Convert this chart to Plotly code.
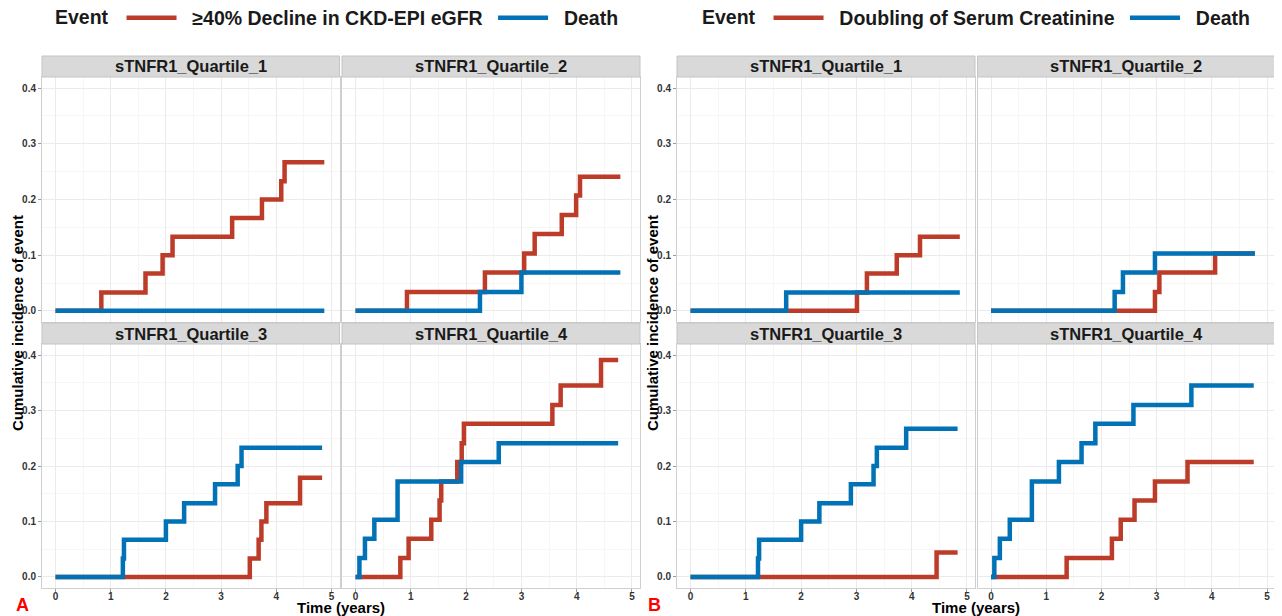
import plotly.graph_objects as go

# the page puts the figure 8 px in from the top-left corner
OFF = 8
W, H = 1282 - OFF, 616 - OFF

quartiles = ["sTNFR1_Quartile_1", "sTNFR1_Quartile_2",
             "sTNFR1_Quartile_3", "sTNFR1_Quartile_4"]

# Panel A: >=40% decline in CKD-EPI eGFR vs death
a_red_name = "≥40% Decline in CKD-EPI eGFR"
a_red_t = [
    [0, 0.83, 1.63, 1.94, 2.12, 3.20, 3.74, 4.09, 4.15, 4.87],
    [0, 0.93, 2.34, 3.05, 3.24, 3.73, 3.99, 4.06, 4.79],
    [0, 3.52, 3.68, 3.73, 3.82, 4.43, 4.83],
    [0, 0.81, 0.96, 1.37, 1.52, 1.55, 1.84, 1.92, 1.96, 3.56, 3.71, 4.44, 4.75],
]
a_red_y = [
    [0, 0.033, 0.067, 0.100, 0.133, 0.167, 0.200, 0.233, 0.267, 0.267],
    [0, 0.034, 0.069, 0.103, 0.138, 0.172, 0.207, 0.241, 0.241],
    [0, 0.033, 0.067, 0.100, 0.133, 0.179, 0.179],
    [0, 0.034, 0.069, 0.103, 0.138, 0.172, 0.207, 0.241, 0.276, 0.310, 0.345, 0.391, 0.391],
]
a_blue_t = [
    [0, 4.87],
    [0, 2.25, 3.00, 4.79],
    [0, 1.22, 1.24, 2.00, 2.33, 2.89, 3.30, 3.37, 4.83],
    [0, 0.07, 0.17, 0.34, 0.76, 1.91, 2.59, 4.75],
]
a_blue_y = [
    [0, 0],
    [0, 0.034, 0.069, 0.069],
    [0, 0.033, 0.067, 0.100, 0.133, 0.167, 0.200, 0.233, 0.233],
    [0, 0.034, 0.069, 0.103, 0.172, 0.207, 0.241, 0.241],
]

# Panel B: doubling of serum creatinine vs death
b_red_name = "Doubling of Serum Creatinine"
b_red_t = [
    [0, 3.01, 3.19, 3.73, 4.15, 4.87],
    [0, 2.97, 3.05, 4.06, 4.78],
    [0, 4.45, 4.83],
    [0, 1.37, 2.19, 2.35, 2.60, 2.97, 3.56, 4.76],
]
b_red_y = [
    [0, 0.033, 0.067, 0.100, 0.133, 0.133],
    [0, 0.034, 0.069, 0.103, 0.103],
    [0, 0.044, 0.044],
    [0, 0.034, 0.069, 0.103, 0.138, 0.172, 0.207, 0.207],
]
b_blue_t = [
    [0, 1.73, 4.87],
    [0, 2.24, 2.39, 2.97, 4.78],
    [0, 1.22, 1.24, 2.00, 2.33, 2.90, 3.31, 3.37, 3.90, 4.83],
    [0, 0.06, 0.16, 0.34, 0.74, 1.23, 1.64, 1.89, 2.58, 3.63, 4.76],
]
b_blue_y = [
    [0, 0.033, 0.033],
    [0, 0.034, 0.069, 0.103, 0.103],
    [0, 0.033, 0.067, 0.100, 0.133, 0.167, 0.200, 0.233, 0.267, 0.267],
    [0, 0.034, 0.069, 0.103, 0.172, 0.207, 0.241, 0.276, 0.310, 0.345, 0.345],
]

RED = "#BC3C29"
BLUE = "#0072B5"
FONT = "Liberation Sans, Arial, sans-serif"
NB = "\u00a0"


def px(x):
    return (x - OFF) / W


def py(y):
    return 1 - (y - OFF) / H


# page-pixel boxes of the facets: (left, right) per panel/column, (top, bottom) per row
col_px = [[(42, 339.5), (342, 640)], [(677, 975), (977.5, 1275)]]
row_px = [(77, 322), (344, 588)]
strip_h = 21

panels = [
    (a_red_name, a_red_t, a_red_y, a_blue_t, a_blue_y, "legend"),
    (b_red_name, b_red_t, b_red_y, b_blue_t, b_blue_y, "legend2"),
]

fig = go.Figure()
layout = {}
shapes = []
annotations = []

for p, (red_name, rt, ry, bt, by, leg) in enumerate(panels):
    for q in range(4):
        r, c = divmod(q, 2)
        i = p * 4 + q + 1
        xs = "" if i == 1 else str(i)
        x0, x1 = col_px[p][c]
        y0, y1 = row_px[r]

        fig.add_trace(go.Scatter(
            x=rt[q], y=ry[q], mode="lines", line=dict(color=RED, width=4.5, shape="hv"),
            name=NB * 2 + red_name + NB, legend=leg, showlegend=(q == 0),
            xaxis="x" + xs, yaxis="y" + xs))
        fig.add_trace(go.Scatter(
            x=bt[q], y=by[q], mode="lines", line=dict(color=BLUE, width=4.5, shape="hv"),
            name=NB * 2 + "Death", legend=leg, showlegend=(q == 0),
            xaxis="x" + xs, yaxis="y" + xs))

        tickfont = dict(family=FONT, size=10, color="#333333", weight="bold")
        layout["xaxis" + xs] = dict(
            domain=[px(x0), px(x1)], anchor="y" + xs, range=[-0.245, 5.145],
            tick0=0, dtick=1, showgrid=True, gridcolor="#EBEBEB", gridwidth=1,
            minor=dict(dtick=0.5, showgrid=True, gridcolor="#F6F6F6", gridwidth=1),
            zeroline=False, showline=True, mirror=True, linecolor="#CFCFCF", linewidth=1,
            showticklabels=(r == 1), ticks="outside" if r == 1 else "",
            ticklen=3, tickcolor="#9A9A9A", tickfont=tickfont, ticklabelstandoff=-4,
            automargin=False)
        layout["yaxis" + xs] = dict(
            domain=[py(y1), py(y0)], anchor="x" + xs, range=[-0.02, 0.42],
            tick0=0, dtick=0.1, tickformat=".1f", showgrid=True, gridcolor="#EBEBEB", gridwidth=1,
            minor=dict(dtick=0.05, showgrid=True, gridcolor="#F6F6F6", gridwidth=1),
            zeroline=False, showline=True, mirror=True, linecolor="#CFCFCF", linewidth=1,
            showticklabels=(c == 0), ticks="outside" if c == 0 else "",
            ticklen=3, tickcolor="#9A9A9A", tickfont=tickfont, automargin=False)

        ph = y1 - y0
        shapes.append(dict(
            type="rect", xref="x%s domain" % xs, yref="y%s domain" % xs,
            x0=0, x1=1, y0=1, y1=1 + strip_h / ph,
            fillcolor="#D9D9D9", line=dict(color="#C4C4C4", width=1)))
        annotations.append(dict(
            text=quartiles[q], xref="x%s domain" % xs, yref="y%s domain" % xs,
            x=0.5, y=1 + strip_h / 2 / ph, showarrow=False, xanchor="center", yanchor="middle",
            font=dict(family=FONT, size=16.5, color="#1A1A1A", weight="bold")))

# shared axis titles and panel letters
for p, (ytx, mid, letter_x) in enumerate([(17, 341, 22), (652, 976, 654)]):
    annotations.append(dict(
        text="Time (years)", xref="paper", yref="paper", x=px(mid), y=py(607),
        showarrow=False, xanchor="center", yanchor="middle",
        font=dict(family=FONT, size=15, color="#000000", weight="bold")))
    annotations.append(dict(
        text="Cumulative incidence of event", xref="paper", yref="paper",
        x=px(ytx), y=py(323), textangle=-90, showarrow=False,
        xanchor="center", yanchor="middle",
        font=dict(family=FONT, size=15, color="#000000", weight="bold")))
    annotations.append(dict(
        text="AB"[p], xref="paper", yref="paper", x=px(letter_x), y=py(605),
        showarrow=False, xanchor="center", yanchor="middle",
        font=dict(family=FONT, size=18, color="#FF0000", weight="bold")))

legfont = dict(family=FONT, size=19.5, color="#1A1A1A", weight="bold")
for key, lx in [("legend", 53), ("legend2", 700)]:
    layout[key] = dict(
        title=dict(text="Event" + NB, font=legfont), orientation="h",
        x=px(lx), y=py(18), xanchor="left", yanchor="middle",
        font=legfont, bgcolor="rgba(0,0,0,0)", itemwidth=50, tracegroupgap=0)

fig.update_layout(
    width=W, height=H, margin=dict(l=0, r=0, t=0, b=0, autoexpand=False),
    paper_bgcolor="white", plot_bgcolor="white",
    shapes=shapes, annotations=annotations, **layout)

fig.write_html("out.html")
